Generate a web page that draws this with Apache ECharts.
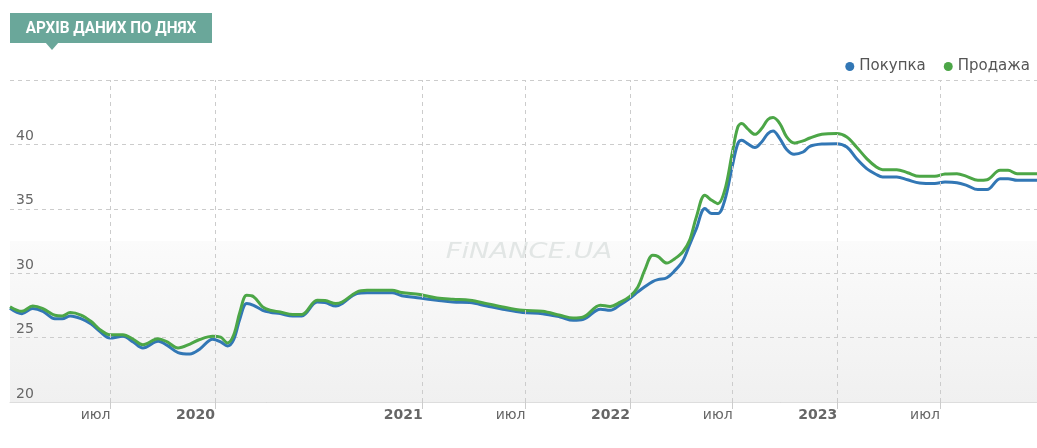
<!DOCTYPE html>
<html>
<head>
<meta charset="utf-8">
<script src="https://cdn.jsdelivr.net/npm/echarts@6/dist/echarts.min.js"></script>
<style>
  html, body { margin: 0; padding: 0; background: #ffffff; }
  #chart { width: 1037px; height: 448px; }
</style>
</head>
<body>
<div id="chart"></div>
<script>
// Daily archive of cash exchange rates: buy / sell
const dates = [
  '2019-01-05','2019-01-26','2019-02-14','2019-03-04','2019-03-25','2019-04-07','2019-04-21','2019-05-10','2019-05-28','2019-06-12',
  '2019-06-30','2019-07-23','2019-08-10','2019-08-27','2019-09-23','2019-10-09','2019-10-28','2019-11-18','2019-12-05','2019-12-28',
  '2020-01-11','2020-01-23','2020-02-03','2020-02-14','2020-02-26','2020-03-09','2020-03-25','2020-04-07','2020-04-25','2020-05-17',
  '2020-06-02','2020-06-29','2020-07-13','2020-08-01','2020-08-12','2020-09-07','2020-09-25','2020-11-08','2020-11-25','2020-12-27',
  '2021-01-26','2021-02-23','2021-03-25','2021-04-24','2021-05-22','2021-06-26','2021-07-31','2021-08-31','2021-09-23','2021-10-11',
  '2021-11-10','2021-11-27','2021-12-15','2022-01-01','2022-01-15','2022-01-27','2022-02-10','2022-02-19','2022-03-07','2022-03-21',
  '2022-04-04','2022-04-16','2022-04-28','2022-05-13','2022-05-25','2022-06-05','2022-06-17','2022-06-30','2022-07-10','2022-07-17',
  '2022-07-27','2022-08-09','2022-08-21','2022-09-01','2022-09-10','2022-09-22','2022-10-04','2022-10-17','2022-11-02','2022-11-14',
  '2022-12-05','2022-12-31','2023-01-18','2023-02-04','2023-02-22','2023-03-11','2023-03-22','2023-04-16','2023-05-05','2023-05-26',
  '2023-06-22','2023-07-10','2023-07-31','2023-08-17','2023-09-06','2023-09-22','2023-10-15','2023-10-29','2023-11-14','2023-12-19'
];

const buyRates = [
  27.28,26.86,27.25,27.04,26.47,26.47,26.68,26.47,26.05,25.49,
  24.97,25.10,24.66,24.19,24.71,24.40,23.84,23.73,24.10,24.87,
  24.66,24.35,24.85,26.47,27.64,27.51,27.12,26.97,26.86,26.68,
  26.68,27.76,27.72,27.45,27.64,28.42,28.49,28.49,28.25,28.07,
  27.90,27.76,27.72,27.45,27.20,26.94,26.86,26.60,26.34,26.42,
  27.20,27.12,27.55,28.05,28.55,28.95,29.35,29.50,29.65,30.20,
  30.95,32.20,33.46,35.02,34.63,34.63,35.66,38.25,40.06,40.32,
  40.06,39.75,40.19,40.84,41.04,40.45,39.60,39.23,39.41,39.85,
  40.03,40.06,39.80,38.90,38.12,37.66,37.47,37.47,37.25,37.00,
  36.96,37.08,37.03,36.82,36.49,36.49,37.34,37.34,37.21,37.21
];

const sellRates = [
  27.40,27.04,27.45,27.25,26.73,26.68,26.94,26.75,26.25,25.64,
  25.23,25.23,24.87,24.45,24.92,24.66,24.19,24.50,24.85,25.10,
  25.03,24.58,25.20,26.99,28.28,28.18,27.38,27.12,26.99,26.79,
  26.79,27.90,27.88,27.64,27.76,28.54,28.67,28.67,28.50,28.34,
  28.07,27.97,27.90,27.64,27.38,27.12,27.04,26.73,26.52,26.60,
  27.51,27.42,27.75,28.20,28.93,30.23,31.39,31.31,30.79,31.13,
  31.65,32.55,34.36,36.05,35.66,35.40,36.44,39.28,41.35,41.62,
  41.23,40.78,41.23,41.93,42.08,41.62,40.58,40.11,40.27,40.50,
  40.78,40.84,40.58,39.80,38.90,38.25,38.04,38.04,37.80,37.52,
  37.52,37.70,37.73,37.52,37.21,37.26,37.99,37.99,37.73,37.73
];

// Half-year marks on the date axis (years in bold, July as "июл")
const tickDates = ['2019-07-01','2020-01-01','2021-01-01','2021-07-01','2022-01-01','2022-07-01','2023-01-01','2023-07-01'];
const midYearLabel = 'июл';
const xRange = ['2019-01-05', '2023-12-19'];

const yMin = 20, yMax = 45, yStep = 5;

const seriesNames = ['Покупка', 'Продажа'];
const seriesColors = ['#3277b5', '#4ca647'];
const titleText = 'АРХІВ ДАНИХ ПО ДНЯХ';
const watermarkText = 'FiNANCE.UA';

// dates -> timestamps (local midnight)
const ts = s => {
  const p = s.split('-').map(Number);
  return new Date(p[0], p[1] - 1, p[2]).getTime();
};
const tickValues = tickDates.map(ts);

const chart = echarts.init(document.getElementById('chart'), null, { renderer: 'canvas' });

const font = 'DejaVu Sans';

const option = {
  animation: false,
  backgroundColor: '#ffffff',
  textStyle: { fontFamily: font },
  grid: {
    left: 10, right: 0, top: 80, bottom: 46,
    show: true,
    borderWidth: 0,
    backgroundColor: {
      type: 'linear', x: 0, y: 0, x2: 0, y2: 1,
      colorStops: [
        { offset: 0, color: '#ffffff' },
        { offset: 0.5, color: '#ffffff' },
        { offset: 0.5, color: '#fbfbfb' },
        { offset: 1, color: '#f0f0f0' }
      ]
    }
  },
  legend: {
    right: 2, top: 54,
    icon: 'circle',
    itemWidth: 9, itemHeight: 9,
    itemGap: 18,
    textStyle: { color: '#555555', fontSize: 15, fontFamily: font },
    data: seriesNames
  },
  xAxis: {
    type: 'value',
    min: ts(xRange[0]),
    max: ts(xRange[1]),
    axisLine: { show: true, lineStyle: { color: '#dddddd', width: 1 } },
    axisTick: {
      show: true, length: 7,
      customValues: tickValues,
      lineStyle: { color: '#cccccc' }
    },
    splitLine: { show: false },
    axisLabel: {
      customValues: tickValues,
      margin: 6,
      align: 'right',
      color: '#666666',
      fontSize: 14,
      fontFamily: font,
      formatter: function (v) {
        const d = new Date(v);
        return d.getMonth() === 0 ? '{y|' + d.getFullYear() + '}' : '{m|' + midYearLabel + '}';
      },
      rich: {
        y: { fontWeight: 'bold', fontSize: 14, color: '#666666', fontFamily: font },
        m: { fontSize: 14, color: '#666666', fontFamily: font }
      }
    }
  },
  yAxis: {
    type: 'value',
    min: yMin, max: yMax, interval: yStep,
    axisLine: { show: false },
    axisTick: { show: false },
    splitLine: { show: true, lineStyle: { color: '#cccccc', type: [4, 4], width: 1 } },
    axisLabel: {
      inside: true,
      margin: 6,
      verticalAlign: 'bottom',
      padding: [0, 0, 1, 0],
      color: '#666666',
      fontSize: 14,
      fontFamily: font,
      showMaxLabel: false,
      formatter: v => (v >= yMax ? '' : String(v))
    }
  },
  series: [
    {
      name: seriesNames[0],
      type: 'line',
      data: dates.map((d, i) => [ts(d), buyRates[i]]),
      showSymbol: false,
      smooth: 0.35,
      color: seriesColors[0],
      lineStyle: { width: 3, color: seriesColors[0] },
      z: 3,
      markLine: {
        silent: true,
        symbol: 'none',
        label: { show: false },
        lineStyle: { color: '#cccccc', type: [4, 4], width: 1 },
        data: tickValues.map(v => ({ xAxis: v }))
      }
    },
    {
      name: seriesNames[1],
      type: 'line',
      data: dates.map((d, i) => [ts(d), sellRates[i]]),
      showSymbol: false,
      smooth: 0.35,
      color: seriesColors[1],
      lineStyle: { width: 3, color: seriesColors[1] },
      z: 4
    }
  ],
  graphic: [
    {
      type: 'group',
      left: 10, top: 13,
      children: [
        { type: 'rect', shape: { x: 0, y: 0, width: 202, height: 30 }, style: { fill: '#6aa79a' } },
        { type: 'polygon', shape: { points: [[35, 29], [49, 29], [42, 37]] }, style: { fill: '#6aa79a' } },
        {
          type: 'text', x: 101, y: 16, scaleX: 0.9,
          style: {
            text: titleText, fill: '#ffffff',
            font: 'bold 17px Roboto',
            align: 'center', verticalAlign: 'middle'
          }
        }
      ]
    },
    {
      type: 'text',
      x: 529, y: 253, scaleX: 1.3, z: 1, silent: true,
      style: {
        text: watermarkText,
        fill: '#e2e6e5',
        font: 'italic 21px "DejaVu Sans"',
        align: 'center', verticalAlign: 'middle'
      }
    }
  ]
};

chart.setOption(option);
</script>
</body>
</html>
